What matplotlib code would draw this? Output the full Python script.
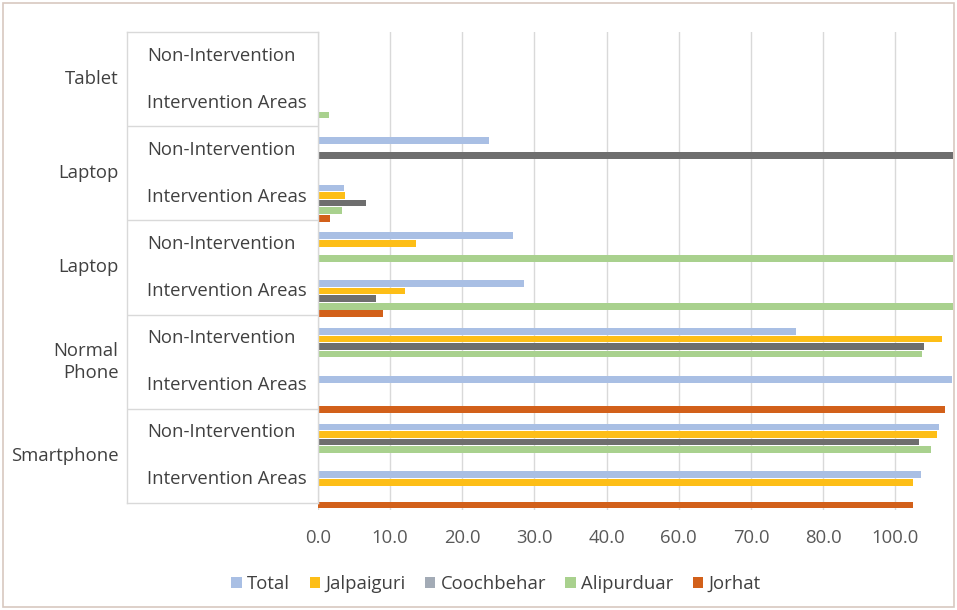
import matplotlib
matplotlib.use("Agg")
import matplotlib.pyplot as plt
from matplotlib.patches import Patch, Rectangle

plt.rcParams['font.family'] = ['Open Sans', 'DejaVu Sans']

# Rows listed from bottom to top
groups = ["Smartphone", "Normal\nPhone", "Laptop", "Laptop", "Tablet"]
subcats = ["Intervention Areas", "Non-Intervention"]
series = ["Total", "Jalpaiguri", "Coochbehar", "Alipurduar", "Jorhat"]
colors = ["#A9BFE4", "#FDBE17", "#6E6E6E", "#A9D18E", "#D2601A"]
legend_colors = ["#A9BFE4", "#FDBE17", "#A3ABB6", "#A9D18E", "#D2601A"]

# values in axis units (gridline k sits at 10*k); bars beyond the axis end are clipped
total      = [83.5, 86.1, 87.9, 66.3, 28.6, 27.0, 3.6, 23.7, 0.0, 0.0]
jalpaiguri = [82.5, 85.8, 0.0, 86.5, 12.1, 13.6, 3.8, 0.0, 0.0, 0.0]
coochbehar = [0.0, 83.3, 0.0, 84.0, 8.1, 0.0, 6.6, 95.0, 0.0, 0.0]
alipurduar = [0.0, 84.9, 0.0, 83.7, 95.0, 95.0, 3.3, 0.0, 1.5, 0.0]
jorhat     = [82.4, 0.0, 86.9, 0.0, 9.0, 0.0, 1.7, 0.0, 0.0, 0.0]
tick_labels = ["0.0", "10.0", "20.0", "30.0", "40.0", "60.0", "70.0", "80.0", "100.0"]

data = [total, jalpaiguri, coochbehar, alipurduar, jorhat]
W, H = 957, 610
fig = plt.figure(figsize=(W / 100, H / 100), dpi=100)
fig.patch.set_facecolor("white")

def fx(px):
    return px / W

def fy(py):
    return 1 - py / H

FS = 13.3

# bar axes
ax = fig.add_axes([fx(318), fy(510), fx(953) - fx(318), fy(32) - fy(510)])
nrows = len(total)
pitch = 0.158
height = 0.14
for i, (name, vals, c) in enumerate(zip(series, data, colors)):
    ys = [r + (1.5 - i) * pitch for r in range(nrows)]
    ax.barh(ys, vals, height=height, color=c, label=name, zorder=3)
ax.set_xlim(0, 88)
ax.set_ylim(-0.5, nrows - 0.5)
ax.set_xticks(range(0, 81, 10))
ax.set_xticklabels(tick_labels)
ax.set_yticks([])
ax.tick_params(axis='x', length=0, pad=14, labelsize=FS, labelcolor="#595959")
ax.grid(axis='x', color="#D9D9D9", lw=1, zorder=0)
for s in ax.spines.values():
    s.set_visible(False)

# category label box
axl = fig.add_axes([fx(127), fy(503), fx(318) - fx(127), fy(32) - fy(503)])
axl.set_xlim(0, 1)
axl.set_ylim(-0.5, nrows - 0.5)
axl.set_xticks([])
axl.set_yticks([])
for s in axl.spines.values():
    s.set_color("#D9D9D9")
    s.set_linewidth(1)
for r in range(nrows):
    axl.text(0.105, r, subcats[r % 2], ha="left", va="center", fontsize=FS, color="#404040")
for g in range(1, len(groups)):
    axl.axhline(2 * g - 0.5, color="#D9D9D9", lw=1)
for g, name in enumerate(groups):
    axl.text(-0.045, 2 * g + 0.5, name, ha="right", va="center", fontsize=FS,
             color="#404040", clip_on=False, linespacing=1.3)

handles = [Patch(facecolor=c, edgecolor="none") for c in legend_colors]
fig.legend(handles, series, loc="center", bbox_to_anchor=(fx(496), fy(584)), ncol=5,
           frameon=False, fontsize=FS, handlelength=0.55, handleheight=0.55,
           handletextpad=0.3, columnspacing=1.05, labelcolor="#404040")

fig.patches.append(Rectangle((fx(3), fy(607)), fx(951), fy(3) - fy(607), transform=fig.transFigure,
                             fill=False, edgecolor="#D8C8C0", lw=1.2))

fig.savefig("out.png", dpi=100, facecolor="white")
